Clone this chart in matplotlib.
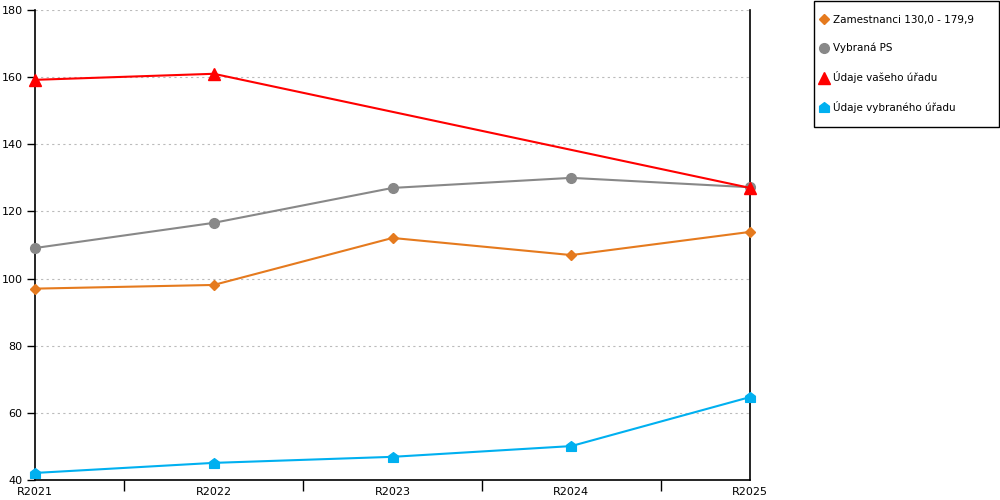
import numpy as np
import matplotlib.pyplot as plt
from matplotlib.path import Path
from matplotlib.patches import Rectangle

# ===== Data =====
years = ["R2021", "R2022", "R2023", "R2024", "R2025"]
zamestnanci = [97.0, 98.1, 112.1, 107.0, 113.9]
vybrana_ps = [109.1, 116.6, 127.0, 130.0, 127.2]
vaseho_uradu = [159.2, 161.0, np.nan, np.nan, 127.0]
vybraneho_uradu = [42.1, 45.1, 46.9, 50.1, 64.7]

labels = [
    "Zamestnanci 130,0 - 179,9",
    "Vybraná PS",
    "Údaje vašeho úřadu",
    "Údaje vybraného úřadu",
]

# house-like marker for the last series
house = Path([(-1, -1), (1, -1), (1, 0.25), (0, 1), (-1, 0.25), (-1, -1)],
             [Path.MOVETO] + [Path.LINETO] * 4 + [Path.CLOSEPOLY])

plt.rcParams["font.family"] = ["DejaVu Sans"]

fig = plt.figure(figsize=(10, 5), dpi=100)
ax = fig.add_axes([0.035, 0.04, 0.715, 0.94])

x = np.arange(len(years))


def plot_series(vals, color, marker, ms, label):
    vals = np.asarray(vals, dtype=float)
    ok = ~np.isnan(vals)
    ax.plot(x[ok], vals[ok], color=color, lw=1.5, marker=marker,
            markersize=ms, label=label, zorder=3, clip_on=False)


plot_series(zamestnanci, "#E57A1E", "D", 5, labels[0])
plot_series(vybrana_ps, "#888888", "o", 7, labels[1])
plot_series(vaseho_uradu, "#FF0000", "^", 8, labels[2])
plot_series(vybraneho_uradu, "#00B0F0", house, 7, labels[3])

ax.set_xlim(0, len(years) - 1)
ax.set_ylim(40, 180)
ax.set_yticks(np.arange(40, 181, 20))
ax.set_xticks(x)
ax.set_xticklabels(years)
ax.set_xticks(x[:-1] + 0.5, minor=True)

ax.grid(axis="y", color="#BBBBBB", ls=(0, (2, 3)), lw=0.8)
ax.set_axisbelow(True)

ax.spines["top"].set_visible(False)
for s in ["left", "right", "bottom"]:
    ax.spines[s].set_color("black")
    ax.spines[s].set_linewidth(1.2)

ax.tick_params(axis="x", which="major", length=0, labelsize=8, pad=5)
ax.tick_params(axis="x", which="minor", length=8, width=1)
ax.tick_params(axis="y", length=6, width=1, labelsize=8, pad=3)

# legend box drawn separately so its size matches the original
fig.patches.append(Rectangle((0.8135, 0.747), 0.185, 0.252,
                             transform=fig.transFigure, fill=False,
                             edgecolor="black", lw=1.0))

leg = fig.legend(loc="upper left", bbox_to_anchor=(0.813, 0.986),
                 frameon=False, fontsize=7.5,
                 handlelength=0.6, handletextpad=0.6, labelspacing=1.72,
                 borderpad=0.75, borderaxespad=0, numpoints=1)
for h in leg.legend_handles:
    h.set_linestyle("none")

fig.savefig("out.png", dpi=100)
